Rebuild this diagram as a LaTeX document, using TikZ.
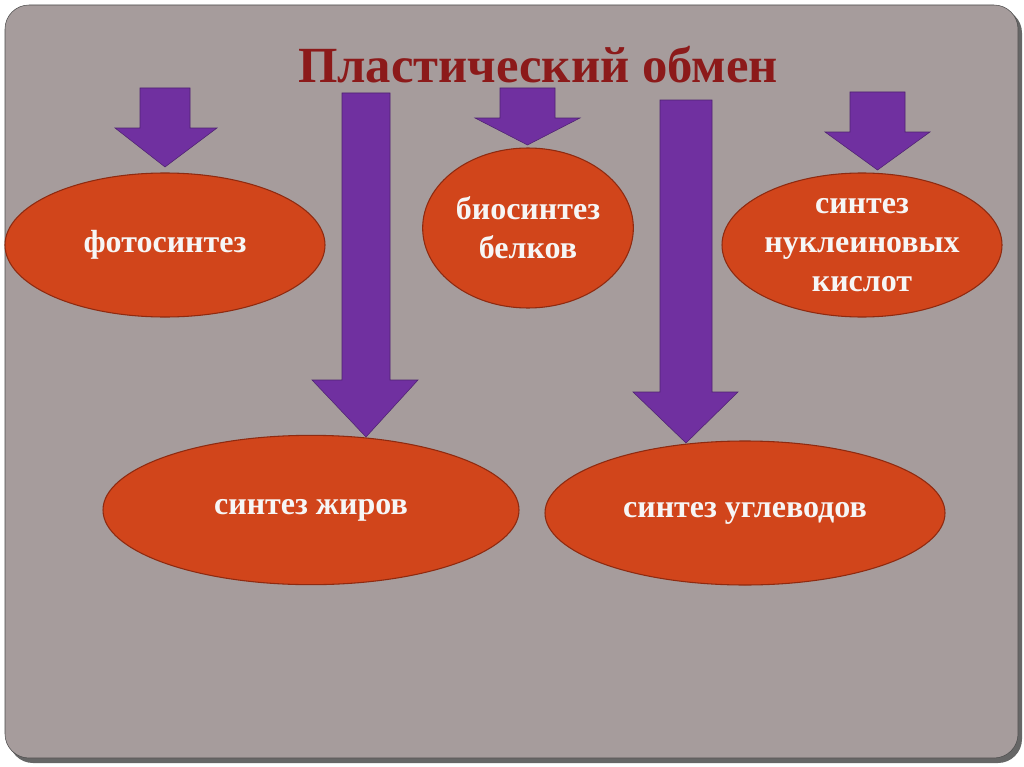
\documentclass[tikz,border=0pt]{standalone}
\usepackage{fontspec}
\setmainfont{Liberation Serif}
\usetikzlibrary{shapes.geometric}
\definecolor{SlideGray}{HTML}{A69C9C}
\definecolor{OvalRed}{HTML}{D1451B}
\definecolor{OvalEdge}{HTML}{8E2A10}
\definecolor{ArrowPurple}{HTML}{7030A0}
\definecolor{TitleRed}{HTML}{8C1A1A}
\tikzset{
    oval/.style = {draw=OvalEdge, fill=OvalRed, ellipse, thick, inner sep=0pt,
        font=\fontsize{24}{29}\selectfont\bfseries, text=white!93!gray, align=center},
    barrow/.style = {fill=ArrowPurple, draw=ArrowPurple!70!black, thin}
}
% block arrow: shaft x1,x2, top y, neck y, head x1,x2, tip y
\newcommand{\blockarrow}[7]{%
    \filldraw[barrow] (#1,#3) -- (#2,#3) -- (#2,#4) -- (#6,#4) -- ({(#1+#2)/2},#7)
        -- (#5,#4) -- (#1,#4) -- cycle;}
\begin{document}
\begin{tikzpicture}[x=0.75pt,y=-0.75pt]
    \useasboundingbox (0,0) rectangle (1024,767);
    \fill[white] (0,0) rectangle (1024,767);
    \fill[black!60,rounded corners=18pt] (9,9) rectangle (1022,763);
    \fill[SlideGray,draw=black!70,rounded corners=18pt] (5,5) rectangle (1018,758);
    \node[text=TitleRed,font=\fontsize{38}{44}\selectfont\bfseries] (title) at (538,65) {Пластический обмен};
%   short arrows
    \blockarrow{140}{190}{88}{128}{115}{217}{167}
    \blockarrow{500}{555}{88}{118}{475}{580}{145}
    \blockarrow{850}{905}{92}{132}{825}{930}{170}
%   long arrows
    \blockarrow{342}{390}{93}{380}{312}{418}{437}
    \blockarrow{660}{712}{100}{392}{633}{738}{443}
%   ovals
    \node[oval,minimum width=240pt,minimum height=108pt] (photo) at (165,245) {фотосинтез};
    \node[oval,minimum width=158pt,minimum height=120pt] (protein) at (528,228) {биосинтез\\белков};
    \node[oval,minimum width=210pt,minimum height=108pt] (nucleic) at (862,245) {синтез\\нуклеиновых\\кислот};
    \node[oval,minimum width=312pt,minimum height=112pt] (fats) at (311,510) {синтез жиров};
    \node[oval,minimum width=300pt,minimum height=108pt] (carbs) at (745,513) {синтез углеводов};
\end{tikzpicture}
\end{document}
